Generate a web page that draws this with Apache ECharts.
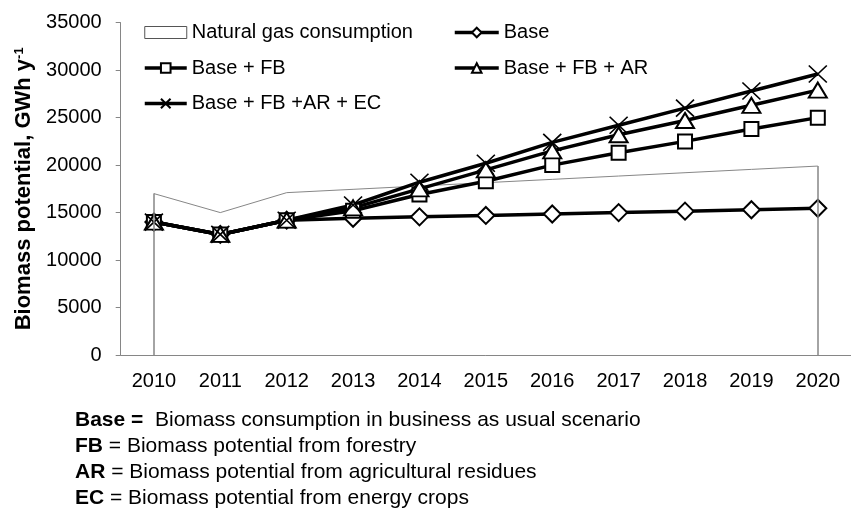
<!DOCTYPE html>
<html>
<head>
<meta charset="utf-8">
<script src="https://cdn.jsdelivr.net/npm/echarts@6/dist/echarts.min.js"></script>
<style>
  html, body { margin: 0; padding: 0; background: #fff; }
  #chart { width: 851px; height: 509px; }
</style>
</head>
<body>
<div id="chart"></div>
<script>
// data (GWh/y)
var years = ['2010', '2011', '2012', '2013', '2014', '2015', '2016', '2017', '2018', '2019', '2020'];
var gasUse = [17000, 15000, 17100, 17450, 17800, 18150, 18500, 18850, 19200, 19550, 19900];
var base = [14000, 12700, 14200, 14400, 14550, 14700, 14850, 15000, 15150, 15300, 15450];
var baseFb = [14000, 12700, 14200, 15200, 16900, 18300, 20000, 21300, 22500, 23800, 25000];
var baseFbAr = [14000, 12700, 14200, 15500, 17500, 19500, 21500, 23200, 24700, 26300, 27900];
var baseFbArEc = [14000, 12700, 14200, 15800, 18200, 20200, 22400, 24200, 26000, 27800, 29600];
var yMax = 35000, yStep = 5000;

var seriesNames = ['Natural gas consumption', 'Base', 'Base + FB', 'Base + FB + AR', 'Base + FB +AR + EC'];
var notes = [
	['Base =', '  Biomass consumption in business as usual scenario'],
	['FB', ' = Biomass potential from forestry'],
	['AR', ' = Biomass potential from agricultural residues'],
	['EC', ' = Biomass potential from energy crops']
];

var FONT = '"Liberation Sans", Arial, sans-serif';
var AXIS_GREY = '#868686';
var crossPath = 'path://M0,0L10,10M10,0L0,10';

var myChart = echarts.init(document.getElementById('chart'));

//折线公共样式
function blackLine(name, data, symbol, size) {
	return {
		name: name,
		type: 'line',
		data: data,
		symbol: symbol,
		symbolSize: size,
		showAllSymbol: true,
		lineStyle: { color: '#000', width: 3.5 },
		itemStyle: { color: '#fff', borderColor: '#000', borderWidth: 2 }
	};
}

var ecSeries = blackLine(seriesNames[4], baseFbArEc, crossPath, [18, 17]);
ecSeries.itemStyle = { color: '#000', borderColor: '#000', borderWidth: 1.6 };

var noteText = [];
for (var i = 0; i < notes.length; i++) {
	noteText.push({
		type: 'text',
		left: 75,
		top: 410 + i * 26,
		style: {
			text: '{b|' + notes[i][0] + '}' + notes[i][1],
			fontSize: 21,
			fontFamily: FONT,
			fill: '#000',
			rich: { b: { fontSize: 21, fontWeight: 'bold', fontFamily: FONT, fill: '#000' } }
		}
	});
}

var legendText = { fontSize: 20, fontFamily: FONT, color: '#000', lineHeight: 21 };
var legendLine = { color: '#000', width: 3.5 };

myChart.setOption({
	animation: false,
	grid: { left: 120.7, top: 22.7, width: 737, bottom: 154, containLabel: false },
	legend: [{
		orient: 'vertical',
		left: 138,
		top: 17,
		itemWidth: 42,
		itemHeight: 12,
		itemGap: 14.5,
		textStyle: legendText,
		lineStyle: legendLine,
		data: [
			{ name: seriesNames[0], icon: 'rect', itemStyle: { color: '#fff', borderColor: '#555', borderWidth: 1 } },
			seriesNames[2],
			seriesNames[4]
		]
	}, {
		orient: 'vertical',
		left: 448,
		top: 17,
		itemWidth: 44,
		itemHeight: 12,
		itemGap: 14.5,
		textStyle: legendText,
		lineStyle: legendLine,
		data: [seriesNames[1], seriesNames[3]]
	}],
	xAxis: {
		type: 'category',
		data: years,
		boundaryGap: true,
		axisLine: { lineStyle: { color: AXIS_GREY, width: 1 } },
		axisTick: { interval: 0, length: 5, lineStyle: { color: AXIS_GREY } },
		axisLabel: { interval: 0, fontSize: 20, fontFamily: FONT, color: '#000', margin: 16 },
		splitLine: { show: false }
	},
	yAxis: {
		type: 'value',
		min: 0,
		max: yMax,
		interval: yStep,
		name: '{a|Biomass potential, GWh y}{s|-1}',
		nameLocation: 'middle',
		nameRotate: 90,
		nameGap: 85,
		nameTextStyle: {
			rich: {
				a: { fontSize: 22, fontWeight: 'bold', fontFamily: FONT, color: '#000' },
				s: { fontSize: 13, fontWeight: 'bold', fontFamily: FONT, color: '#000', verticalAlign: 'top' }
			}
		},
		axisLine: { show: true, lineStyle: { color: AXIS_GREY, width: 1 } },
		axisTick: { show: true, length: 5, lineStyle: { color: AXIS_GREY } },
		axisLabel: {
			fontSize: 20, fontFamily: FONT, color: '#000', margin: 19,
			formatter: function (v) { return String(v); }
		},
		splitLine: { show: false }
	},
	graphic: noteText,
	series: [{
		name: seriesNames[0],
		type: 'line',
		data: gasUse,
		symbol: 'none',
		lineStyle: { color: AXIS_GREY, width: 1 },
		itemStyle: { color: '#fff', borderColor: AXIS_GREY },
		areaStyle: { color: '#fff', opacity: 1 },
		markLine: {
			silent: true,
			symbol: 'none',
			label: { show: false },
			lineStyle: { color: AXIS_GREY, width: 1.5, type: 'solid' },
			data: [
				[{ coord: [0, 0] }, { coord: [0, gasUse[0]] }],
				[{ coord: [years.length - 1, 0] }, { coord: [years.length - 1, gasUse[years.length - 1]] }]
			]
		}
	},
		blackLine(seriesNames[1], base, 'diamond', 17),
		blackLine(seriesNames[2], baseFb, 'rect', 14),
		blackLine(seriesNames[3], baseFbAr, 'triangle', [18, 15]),
		ecSeries
	]
});

window.onresize = function () {
	myChart.resize();
};
</script>
</body>
</html>
